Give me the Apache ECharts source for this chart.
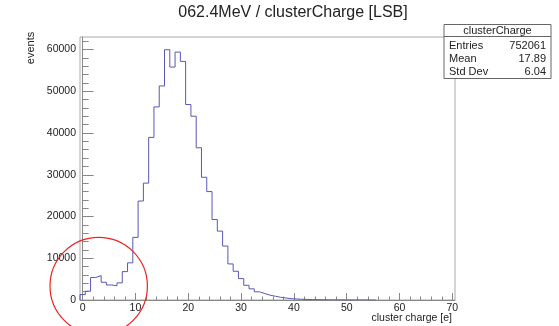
<!DOCTYPE html>
<html><head><meta charset="utf-8">
<script src="https://cdn.jsdelivr.net/npm/echarts@6/dist/echarts.min.js"></script>
<style>html,body{margin:0;padding:0;background:#fff}#c{width:559px;height:326px}</style>
</head><body><div id="c"></div>
<script>
// ---- data ----
const binCenters = [0,1,2,3,4,5,6,7,8,9,10,11,12,13,14,15,16,17,18,19,20,21,22,23,24,25,26,27,28,29,30,31,32,33,34,35,36,37,38,39,40,41,42,43,44,45,46,47,48,49,50,51,52,53,54,55];
const counts = [1300,2100,5400,5850,4250,3600,3400,4100,6800,8900,15000,23700,28000,38950,46250,51270,59950,55800,59380,57160,46820,44030,36470,29400,25970,19290,16500,12930,8640,6880,5130,3530,2670,1960,1550,1150,900,650,480,330,240,180,130,100,80,60,45,35,25,20,15,10,8,5,3,2];
const binWidth = 1;
const xMajorTicks = [0,10,20,30,40,50,60,70];
const xMinorTicks = [2,4,6,8,12,14,16,18,22,24,26,28,32,34,36,38,42,44,46,48,52,54,56,58,62,64,66,68];
const yMajorTicks = [0,10000,20000,30000,40000,50000,60000];
const yMinorTicks = [2000,4000,6000,8000,12000,14000,16000,18000,22000,24000,26000,28000,32000,34000,36000,38000,42000,44000,46000,48000,52000,54000,56000,58000,62000];
const titleText = '062.4MeV / clusterCharge [LSB]';
const xTitle = 'cluster charge [e]';
const yTitle = 'events';
const statsName = 'clusterCharge';
const statsLabels = ['Entries','Mean','Std Dev'];
const statsValues = ['752061','17.89','6.04'];

// ---- build step outline at bin edges ----
const pts = [[binCenters[0]-binWidth/2, 0]];
for (let i=0;i<binCenters.length;i++) pts.push([binCenters[i]-binWidth/2, counts[i]]);
pts.push([binCenters[binCenters.length-1]+binWidth/2, counts[counts.length-1]]);

const FONT = 'Liberation Sans, Arial, Helvetica, sans-serif';
const chart = echarts.init(document.getElementById('c'), null, {renderer:'canvas'});
const gridL=80, gridT=37, gridW=375, gridH=263;
const axBase = {type:'value', min:-0.5, max:70.5, gridIndex:0, splitLine:{show:false}};
const ayBase = {type:'value', min:0, max:63000, gridIndex:0, splitLine:{show:false}};

const statsGraphics = [];
const bx=444, by=24.5, bw=107, bh=54;
statsGraphics.push({type:'rect', shape:{x:bx,y:by,width:bw,height:bh}, style:{fill:'#fff',stroke:'#666',lineWidth:1}, z:100});
statsGraphics.push({type:'line', shape:{x1:bx,y1:36.5,x2:bx+bw,y2:36.5}, style:{stroke:'#666',lineWidth:1}, z:101});
statsGraphics.push({type:'text', x:bx+bw/2, y:31, style:{text:statsName, font:'11px '+FONT, fill:'#222', textAlign:'center', textVerticalAlign:'middle'}, z:101});
const rowY=[45.5,59,72];
for (let i=0;i<statsLabels.length;i++){
  statsGraphics.push({type:'text', x:bx+5, y:rowY[i], style:{text:statsLabels[i], font:'11px '+FONT, fill:'#222', textAlign:'left', textVerticalAlign:'middle'}, z:101});
  statsGraphics.push({type:'text', x:bx+bw-5, y:rowY[i], style:{text:statsValues[i], font:'11px '+FONT, fill:'#222', textAlign:'right', textVerticalAlign:'middle'}, z:101});
}

chart.setOption({
  animation:false,
  backgroundColor:'#fff',
  grid:[{left:gridL, top:gridT, width:gridW, height:gridH, show:true, borderColor:'#aaa', borderWidth:1, backgroundColor:'transparent'}],
  xAxis:[
    Object.assign({}, axBase, {
      axisLine:{show:true, lineStyle:{color:'#888', width:1}},
      axisTick:{show:true, inside:true, length:7, customValues:xMajorTicks, lineStyle:{color:'#888'}},
      axisLabel:{show:true, customValues:xMajorTicks, margin:3, color:'#222', fontSize:10.5, fontFamily:FONT, formatter:function(v){return String(v);}}
    }),
    Object.assign({}, axBase, {
      position:'bottom',
      axisLine:{show:false},
      axisTick:{show:true, inside:true, length:3.5, customValues:xMinorTicks, lineStyle:{color:'#888'}},
      axisLabel:{show:false}
    })
  ],
  yAxis:[
    Object.assign({}, ayBase, {
      axisLine:{show:true, lineStyle:{color:'#888', width:1}},
      axisTick:{show:true, inside:true, length:11, customValues:yMajorTicks, lineStyle:{color:'#888'}},
      axisLabel:{show:true, customValues:yMajorTicks, margin:4, color:'#222', fontSize:10.5, fontFamily:FONT, formatter:function(v){return String(v);}}
    }),
    Object.assign({}, ayBase, {
      position:'left',
      axisLine:{show:false},
      axisTick:{show:true, inside:true, length:6, customValues:yMinorTicks, lineStyle:{color:'#888'}},
      axisLabel:{show:false}
    })
  ],
  series:[{
    type:'line', xAxisIndex:0, yAxisIndex:0, step:'end', data:pts, showSymbol:false, symbol:'none',
    lineStyle:{color:'#5858b4', width:1}, clip:true
  }],
  graphic:[
    {type:'text', x:293, y:13, style:{text:titleText, font:'16px '+FONT, fill:'#222', textAlign:'center', textVerticalAlign:'middle'}},
    {type:'text', x:31, y:48, rotation:Math.PI/2, style:{text:yTitle, font:'11px '+FONT, fill:'#222', textAlign:'center', textVerticalAlign:'middle'}},
    {type:'text', x:452, y:318, style:{text:xTitle, font:'10.5px '+FONT, fill:'#222', textAlign:'right', textVerticalAlign:'middle'}},
    {type:'circle', shape:{cx:98.7, cy:286, r:48.7}, style:{fill:'none', stroke:'#ee2222', lineWidth:1.2}, z:120}
  ].concat(statsGraphics)
});
</script></body></html>
